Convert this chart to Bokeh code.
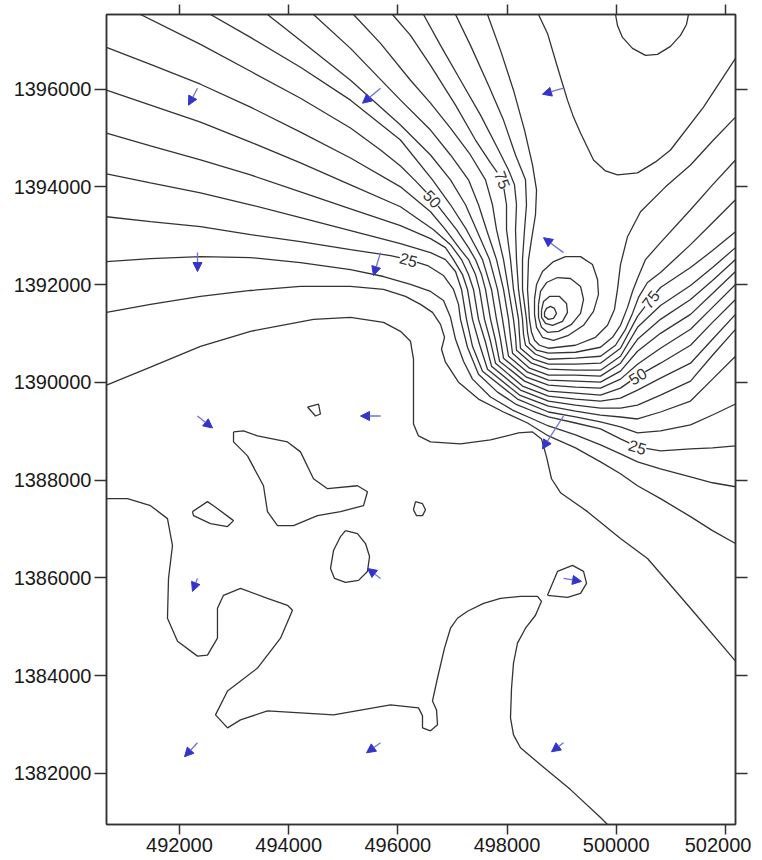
import math
from bokeh.plotting import figure
from bokeh.models import (ColumnDataSource, LinearAxis, FixedTicker, NumeralTickFormatter,
                          Arrow, NormalHead, Range1d)
from bokeh.core.properties import value
from bokeh.embed import file_html
from bokeh.resources import INLINE

# ---------------- data (map units, metres) ----------------
X_RANGE = (490663, 502186)
Y_RANGE = (1380952, 1397529)
X_TICKS = [492000, 494000, 496000, 498000, 500000, 502000]
Y_TICKS = [1382000, 1384000, 1386000, 1388000, 1390000, 1392000, 1394000, 1396000]

# contour lines, (easting, northing)
C05_MAIN = [(490663,1387620),(491048,1387620),(491469,1387477),(491780,1387212),(491872,1386661),(491799,1385988),(491780,1385173),(491964,1384704),(492330,1384398),(492513,1384419),(492696,1384765),(492696,1385377),(492806,1385642),(493118,1385785),(493612,1385581),(493979,1385438),(494070,1385336),(493851,1384765),(493429,1384153),(492880,1383684),(492660,1383195),(492880,1382930),(493118,1383093),(493612,1383277),(494822,1383195),(495866,1383399),(496379,1383338),(496452,1383175),(496452,1382930),(496599,1382869),(496727,1382991),(496709,1383297),(496635,1383481),(496727,1383950),(496855,1384561),(496965,1384969),(497093,1385173),(497276,1385316),(497570,1385479),(497881,1385581),(498247,1385622),(498559,1385622),(498632,1385520),(498522,1385234),(498339,1384969),(498192,1384663),(498119,1384255),(498083,1383746),(498064,1383134),(498119,1382787),(498247,1382522),(498614,1382176),(499163,1381666),(499713,1381095),(499841,1380952)]
C05_BLOB1 = [(492990,1388986),(493173,1389006),(493429,1388904),(493979,1388782),(494217,1388578),(494455,1388028),(494712,1387824),(495261,1387885),(495444,1387762),(495371,1387477),(494950,1387355),(494528,1387273),(494089,1387069),(493796,1387069),(493612,1387355),(493539,1387885),(493246,1388496),(492990,1388782),(492990,1388986)]
C05_BLOB2 = [(492238,1387355),(492513,1387559),(492623,1387477),(492990,1387171),(492880,1387049),(492568,1387110),(492257,1387273),(492238,1387355)]
C05_BLOB3 = [(494345,1389496),(494547,1389557),(494583,1389353),(494492,1389312),(494345,1389496)]
C05_BLOB4 = [(496324,1387559),(496452,1387518),(496507,1387395),(496452,1387273),(496342,1387273),(496287,1387395),(496324,1387559)]
C05_BLOB5 = [(495041,1386967),(495261,1386906),(495408,1386702),(495482,1386437),(495444,1386131),(495280,1385948),(495041,1385907),(494840,1385988),(494767,1386192),(494822,1386559),(494950,1386845),(495041,1386967)]
C05_BLOB6 = [(498742,1385642),(498925,1386131),(499200,1386254),(499402,1386131),(499457,1385887),(499347,1385683),(499108,1385601),(498742,1385642)]
C10 = [(490663,1389944),(491469,1390311),(492385,1390739),(493301,1391045),(494455,1391290),(495133,1391331),(495738,1391229),(496049,1391045),(496232,1390841),(496287,1390474),(496287,1389659),(496287,1389149),(496379,1388904),(496599,1388782),(497148,1388741),(497698,1388823),(498211,1388965),(498467,1388986),(498632,1388843),(498724,1388476),(498815,1388028),(498980,1387742),(499475,1387355),(500079,1386804),(500574,1386396),(501362,1385377),(502186,1384296)]
C15 = [(490663,1391433),(491469,1391596),(492385,1391759),(493301,1391881),(494217,1391963),(495133,1391963),(495738,1391902),(496141,1391759),(496415,1391596),(496635,1391433),(496782,1391188),(496855,1390923),(496800,1390678),(496873,1390413),(497112,1390005),(497478,1389659),(497936,1389394),(498376,1389169),(498760,1388904),(499255,1388660),(499713,1388374),(500079,1388129),(500391,1387885),(500812,1387620),(501362,1387253),(501765,1386967),(502186,1386702)]
C20 = [(490663,1392473),(491469,1392534),(492385,1392574),(493301,1392554),(494217,1392452),(495133,1392309),(495738,1392167),(496232,1392004),(496599,1391861),(496837,1391677),(496965,1391331),(497057,1390882),(497203,1390434),(497368,1390067),(497698,1389700),(498101,1389434),(498431,1389271),(498760,1389108),(499255,1388925),(499713,1388721),(500079,1388537),(500391,1388374),(500812,1388231),(501362,1388068),(501765,1387946),(502186,1387864)]
C25 = [(490663,1393390),(491469,1393288),(492385,1393186),(493301,1393023),(494217,1392880),(495133,1392717),(495866,1392595),(496196,1392513),(496544,1392391),(496837,1392187),(497020,1391902),(497112,1391596),(497148,1391290),(497276,1390719),(497478,1390168),(497826,1389801),(498156,1389557),(498467,1389414),(498760,1389292),(499255,1389169),(499713,1389047),(500079,1388843),(500391,1388680),(500812,1388598),(501362,1388639),(501765,1388660),(502186,1388700)]
C30 = [(490663,1394267),(491469,1394083),(492385,1393879),(493301,1393635),(494217,1393370),(495133,1393105),(496049,1392840),(496599,1392656),(496873,1392513),(497057,1392269),(497167,1391902),(497258,1391290),(497368,1390739),(497551,1390230),(498192,1389659),(498760,1389394),(499255,1389292),(499713,1389190),(500079,1389088),(500391,1388965),(500812,1389006),(501362,1389129),(501765,1389332),(502186,1389557)]
C35 = [(490663,1395103),(491469,1394838),(492385,1394552),(493301,1394246),(494217,1393900),(495133,1393553),(496049,1393207),(496599,1392942),(496873,1392758),(497020,1392513),(497185,1392207),(497276,1391902),(497368,1391290),(497496,1390780),(497643,1390270),(498229,1389740),(498760,1389516),(499255,1389414),(499713,1389332),(500079,1389292),(500391,1389251),(500812,1389394),(501362,1389618),(501765,1390067),(502186,1390535)]
C40 = [(490663,1395980),(491469,1395674),(492385,1395327),(493301,1394919),(494217,1394491),(495133,1394043),(496049,1393594),(496654,1393125),(496965,1392819),(497167,1392513),(497295,1392207),(497386,1391902),(497478,1391290),(497606,1390821),(497716,1390332),(498247,1389842),(498760,1389618),(499255,1389536),(499713,1389475),(500079,1389475),(500391,1389536),(500812,1389740),(501362,1390026),(501765,1390556),(502186,1391086)]
C45 = [(490663,1396856),(491469,1396510),(492385,1396102),(493301,1395633),(494217,1395123),(495133,1394593),(496049,1394002),(496599,1393492),(496873,1393125),(497148,1392717),(497295,1392513),(497423,1392207),(497496,1391902),(497588,1391290),(497698,1390841),(497789,1390393),(498284,1389924),(498760,1389720),(499255,1389659),(499713,1389618),(500079,1389679),(500391,1389842),(500812,1390087),(501362,1390393),(501765,1390882),(502186,1391392)]
C50 = [(491286,1397529),(492385,1396918),(493301,1396367),(494217,1395816),(495133,1395205),(495683,1394756),(496049,1394430),(496306,1394145),(496635,1393757),(497075,1393125),(497295,1392758),(497423,1392513),(497533,1392207),(497606,1391902),(497698,1391290),(497789,1390862),(497863,1390434),(498321,1390026),(498760,1389822),(499255,1389781),(499713,1389740),(500079,1389883),(500391,1390128),(500812,1390393),(501362,1390760),(501765,1391229),(502186,1391698)]
C55 = [(492568,1397529),(493301,1397060),(494217,1396449),(495133,1395776),(496049,1394960),(496635,1394145),(496965,1393635),(497258,1393125),(497551,1392513),(497716,1391902),(497808,1391290),(497881,1390882),(497936,1390495),(498357,1390107),(498760,1389944),(499255,1389903),(499713,1389883),(500079,1390067),(500391,1390372),(500812,1390699),(501362,1391086),(501765,1391535),(502186,1392004)]
C60 = [(493612,1397529),(494217,1396999),(495133,1396184),(496049,1395266),(496599,1394654),(496965,1394145),(497240,1393635),(497441,1393125),(497680,1392513),(497826,1391902),(497918,1391290),(497973,1390902),(498028,1390535),(498376,1390209),(498760,1390046),(499255,1390026),(499713,1390005),(500079,1390230),(500391,1390637),(500812,1391004),(501362,1391392),(501765,1391820),(502186,1392269)]
C65 = [(494455,1397529),(495133,1396836),(496049,1395776),(496599,1395164),(496965,1394654),(497295,1394145),(497478,1393635),(497625,1393125),(497808,1392513),(497936,1391902),(498028,1391290),(498064,1390923),(498101,1390597),(498412,1390291),(498760,1390148),(499255,1390148),(499713,1390128),(500079,1390393),(500391,1390882),(500812,1391290),(501362,1391698),(501765,1392085),(502186,1392513)]
C70 = [(495188,1397529),(495683,1396938),(496232,1396184),(496599,1395715),(496965,1395205),(497331,1394654),(497606,1394145),(497734,1393635),(497808,1393125),(497936,1392513),(498028,1391902),(498119,1391290),(498156,1390943),(498174,1390658),(498449,1390393),(498760,1390270),(499255,1390250),(499713,1390250),(500079,1390535),(500391,1391127),(500812,1391575),(501362,1391983),(501765,1392350),(502186,1392758)]
C75 = [(495902,1397529),(496232,1397101),(496599,1396489),(497057,1395674),(497423,1394960),(497698,1394491),(497918,1394145),(497991,1393635),(497991,1393125),(498064,1392513),(498119,1391902),(498211,1391290),(498229,1390964),(498247,1390699),(498486,1390474),(498760,1390372),(499255,1390372),(499713,1390393),(500079,1390699),(500391,1391351),(500629,1391698),(500812,1391942),(501362,1392350),(501765,1392697),(502186,1393084)]
C80 = [(496470,1397529),(496782,1396897),(497148,1396184),(497515,1395470),(497826,1394797),(498028,1394348),(498137,1394043),(498174,1393635),(498156,1393125),(498174,1392513),(498211,1391902),(498284,1391290),(498302,1390984),(498339,1390760),(498522,1390576),(498760,1390474),(499255,1390495),(499713,1390535),(499988,1390760),(500171,1391086),(500299,1391412),(500409,1391739),(500574,1392044),(500812,1392248),(501362,1392819),(501765,1393268),(502186,1393737)]
C85 = [(497057,1397529),(497331,1396897),(497661,1396082),(497936,1395368),(498156,1394654),(498339,1394145),(498357,1393635),(498321,1393125),(498284,1392513),(498284,1391902),(498357,1391290),(498376,1391025),(498412,1390801),(498541,1390658),(498760,1390597),(499255,1390617),(499713,1390719),(499933,1390923),(500079,1391168),(500208,1391535),(500299,1391861),(500391,1392126),(500537,1392513),(500812,1392860),(501362,1393533),(501765,1394043),(502186,1394552)]
C90 = [(497643,1397529),(497881,1396795),(498119,1395980),(498321,1395164),(498467,1394450),(498541,1393941),(498522,1393431),(498449,1392921),(498394,1392513),(498376,1391902),(498412,1391290),(498449,1391025),(498504,1390862),(498595,1390760),(498760,1390699),(499255,1390760),(499621,1390923),(499841,1391168),(499969,1391494),(500024,1391902),(500079,1392411),(500208,1392982),(500446,1393492),(500904,1394002),(501362,1394450),(501765,1394940),(502186,1395429)]
C95_NE = [(498577,1397529),(498742,1397142),(498925,1396449),(499108,1395776),(499218,1395429),(499347,1395103),(499585,1394552),(499805,1394328),(500024,1394246),(500391,1394287),(500721,1394512),(500995,1394756),(501600,1395633),(502186,1396632)]
C95_LOOP = [(498504,1391698),(498541,1392004),(498650,1392269),(498852,1392473),(499072,1392574),(499347,1392574),(499566,1392411),(499658,1392106),(499676,1391800),(499585,1391453),(499402,1391168),(499127,1390964),(498852,1390862),(498650,1390923),(498541,1391127),(498504,1391392),(498504,1391698)]
C100_TOP = [(499988,1397529),(500024,1397305),(500116,1397060),(500299,1396836),(500537,1396693),(500757,1396714),(500995,1396877),(501178,1397101),(501288,1397325),(501325,1397529)]
C100_LOOP = [(498577,1391596),(498614,1391861),(498724,1392044),(498925,1392146),(499163,1392126),(499347,1391963),(499402,1391698),(499347,1391412),(499182,1391188),(498944,1391045),(498742,1391025),(498632,1391127),(498577,1391331),(498577,1391596)]
C105_LOOP = [(498632,1391473),(498669,1391657),(498779,1391759),(498962,1391759),(499090,1391616),(499108,1391433),(499017,1391249),(498834,1391168),(498705,1391208),(498632,1391331),(498632,1391473)]
C110_LOOP = [(498687,1391433),(498724,1391514),(498797,1391555),(498870,1391514),(498907,1391412),(498852,1391310),(498760,1391290),(498687,1391351),(498687,1391433)]

CONTOURS = [C05_MAIN, C05_BLOB1, C05_BLOB2, C05_BLOB3, C05_BLOB4, C05_BLOB5, C05_BLOB6,
            C10, C15, C20, C25, C30, C35, C40, C45, C50, C55, C60, C65, C70, C75, C80,
            C85, C90, C95_NE, C95_LOOP, C100_TOP, C100_LOOP, C105_LOOP, C110_LOOP]

# contour labels
LABEL_TEXT = ["25", "50", "75", "75", "50", "25"]
LABEL_X = [496196, 496635, 497918, 500629, 500391, 500391]
LABEL_Y = [1392513, 1393757, 1394145, 1391698, 1390128, 1388680]
LABEL_ANGLE_DEG = [-15, -48, -69, 52, 32, -17]

# flow vectors: tail position and components (m)
ARROW_X = [492330, 495683, 499035, 492330, 495683, 499035, 492330, 495683, 499035,
           492330, 495683, 499035, 492330, 495683, 499035]
ARROW_Y = [1396020, 1396020, 1396020, 1392656, 1392656, 1392656, 1389312, 1389312, 1389312,
           1385988, 1385988, 1385988, 1382624, 1382624, 1382624]
ARROW_U = [-165, -330, -385, 0, -128, -366, 275, -366, -385, -92, -238, 330, -238, -256, -220]
ARROW_V = [-347, -306, -122, -387, -469, 306, -245, 0, -673, -265, 204, -61, -285, -204, -184]

# ---------------- figure ----------------
p = figure(frame_width=629, frame_height=810,
           x_range=Range1d(*X_RANGE), y_range=Range1d(*Y_RANGE),
           output_backend="svg", toolbar_location=None,
           min_border_left=106, min_border_right=16, min_border_top=14, min_border_bottom=8)
p.grid.visible = False
p.background_fill_color = "white"
p.border_fill_color = "white"
p.outline_line_color = "#333333"
p.outline_line_width = 1.5

xs = [[pt[0] for pt in ln] for ln in CONTOURS]
ys = [[pt[1] for pt in ln] for ln in CONTOURS]
p.multi_line(xs, ys, line_color="#333333", line_width=1.3)

lab_src = ColumnDataSource(dict(x=LABEL_X, y=LABEL_Y, text=LABEL_TEXT,
                                angle=[math.radians(a) for a in LABEL_ANGLE_DEG]))
p.text(x="x", y="y", text="text", angle="angle", source=lab_src,
       text_font=value("Liberation Sans"), text_font_size="16px", text_color="#333333",
       text_align="center", text_baseline="middle",
       background_fill_color="white", background_fill_alpha=1.0)

arr_src = ColumnDataSource(dict(x0=ARROW_X, y0=ARROW_Y,
                                x1=[x + u for x, u in zip(ARROW_X, ARROW_U)],
                                y1=[y + v for y, v in zip(ARROW_Y, ARROW_V)]))
p.add_layout(Arrow(end=NormalHead(size=9, fill_color="#3434cc", line_color="#3434cc", line_width=1),
                   x_start="x0", y_start="y0", x_end="x1", y_end="y1", source=arr_src,
                   line_color="#7070dc", line_width=1.3))


def style_axis(ax, ticks, labels, tick_out):
    ax.ticker = FixedTicker(ticks=ticks)
    ax.formatter = NumeralTickFormatter(format="0")
    ax.axis_line_color = "#333333"
    ax.axis_line_width = 1.5
    ax.major_tick_line_color = "#333333"
    ax.major_tick_line_width = 1.5
    ax.major_tick_in = 0
    ax.major_tick_out = tick_out
    ax.minor_tick_line_color = None
    ax.major_label_text_font = "Liberation Sans"
    if labels:
        ax.major_label_text_color = "#1a1a1a"
        ax.major_label_text_font_size = "20px"
        ax.major_label_standoff = 3
    else:
        ax.major_label_text_color = None
        ax.major_label_text_font_size = "1px"
        ax.major_label_standoff = 0


style_axis(p.xaxis[0], X_TICKS, True, 10)
style_axis(p.yaxis[0], Y_TICKS, True, 12)
top_axis = LinearAxis()
right_axis = LinearAxis()
p.add_layout(top_axis, "above")
p.add_layout(right_axis, "right")
style_axis(top_axis, X_TICKS, False, 10)
style_axis(right_axis, Y_TICKS, False, 12)

open("out.html", "w").write(file_html(p, INLINE))
